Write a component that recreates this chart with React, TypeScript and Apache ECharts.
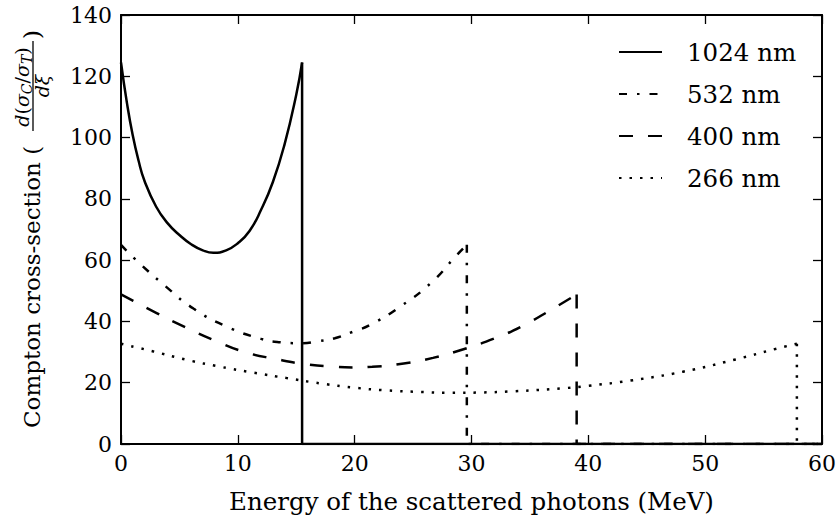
import React, { useEffect, useRef } from "react";
import * as echarts from "echarts";

// Series names
const NAMES = ["1024 nm", "532 nm", "400 nm", "266 nm"];

// Curves: [energy (MeV), cross-section]
const curve1024: number[][] = [
  [0, 124.5], [0.5, 111.5], [1, 100.8], [1.5, 92.5], [2, 86], [3, 77.5], [4, 72],
  [5, 68.2], [6, 65.2], [7, 63.2], [7.9, 62.4], [9, 63.2], [10, 65.5], [11, 69.5],
  [12, 76.5], [13, 85.5], [14, 97.8], [15, 114], [15.5, 124.5],
];
const drop1024: number[][] = [[15.5, 124.5], [15.5, 0], [60, 0]];

const curve532: number[][] = [
  [0, 65], [1.3, 60], [3.8, 51.5], [6.2, 44.2], [9, 38.4], [12, 34.3], [13.6, 33.2],
  [15.3, 32.9], [17, 33.6], [18.3, 34.5], [19.9, 36.7], [21.3, 38.8], [24, 45.1],
  [26.6, 52.8], [28.7, 61.5], [29.6, 65],
];
const drop532: number[][] = [[29.6, 65], [29.6, 0], [60, 0]];

const curve400: number[][] = [
  [0, 48.8], [1.05, 46.7], [3.05, 42.7], [5.5, 38.1], [8, 33.8], [10.6, 30.0],
  [13.3, 27.7], [15.9, 26.0], [18.3, 25.2], [19.9, 25.0], [21.5, 25.2], [24.2, 26.3],
  [26.7, 28.1], [29.45, 31.1], [32, 34.5], [34.4, 38.6], [36.9, 44], [39, 48.8],
];
const drop400: number[][] = [[39, 48.8], [39, 0], [60, 0]];

const curve266: number[][] = [
  [0, 32.7], [2.77, 30.2], [5.6, 27.5], [8.5, 25.2], [11.3, 23.3], [14.2, 21.5],
  [17.2, 19.7], [19.9, 18.4], [22.7, 17.5], [25.6, 17.0], [28.2, 16.7], [30.7, 16.8],
  [33.6, 17.2], [38.2, 18.3], [40, 19.0], [43.6, 20.7], [48.1, 23.6], [52.6, 27.6],
  [56.1, 31.1], [57.85, 32.7],
];
const drop266: number[][] = [[57.85, 32.7], [57.85, 0], [60, 0]];

const X_MIN = 0, X_MAX = 60, X_STEP = 10;
const Y_MIN = 0, Y_MAX = 140, Y_STEP = 20;

const X_LABEL = "Energy of the scattered photons (MeV)";
const Y_LABEL = "Compton cross-section (";

const FONT = '"DejaVu Serif", serif';

export default function App() {
  const ref = useRef<HTMLDivElement>(null);

  useEffect(() => {
    if (!ref.current) return;
    const chart = echarts.init(ref.current, null, { renderer: "svg" });

    const dashes: any[] = ["solid", [8, 10, 2.5, 10], [14, 15], [2.5, 8]];
    const curves = [curve1024, curve532, curve400, curve266];
    const drops = [drop1024, drop532, drop400, drop266];

    const series: any[] = [];
    NAMES.forEach((name, i) => {
      const ls = { color: "#000", width: 2.5, type: dashes[i], cap: "butt" };
      series.push({
        name,
        type: "line",
        data: curves[i],
        smooth: 0.5,
        symbol: "none",
        lineStyle: ls,
        itemStyle: { color: "#000" },
        z: 3,
      });
      series.push({
        name,
        type: "line",
        data: drops[i],
        smooth: false,
        symbol: "none",
        lineStyle: ls,
        itemStyle: { color: "#000" },
        z: 3,
      });
    });

    const axisCommon = {
      type: "value",
      axisLine: { show: true, onZero: false, lineStyle: { color: "#000", width: 2 } },
      axisTick: { show: true, inside: true, length: 9, lineStyle: { color: "#000", width: 1.3 } },
      splitLine: { show: false },
    };

    chart.setOption({
      animation: false,
      backgroundColor: "#fff",
      grid: { left: 121, right: 18, top: 15, bottom: 69, containLabel: false },
      xAxis: [
        {
          ...axisCommon,
          position: "bottom",
          min: X_MIN, max: X_MAX, interval: X_STEP,
          axisLabel: { color: "#000", fontFamily: FONT, fontSize: 22, margin: 8 },
          name: X_LABEL,
          nameLocation: "middle",
          nameGap: 45,
          nameTextStyle: { color: "#000", fontFamily: FONT, fontSize: 24.5 },
        },
        {
          ...axisCommon,
          position: "top",
          min: X_MIN, max: X_MAX, interval: X_STEP,
          axisLabel: { show: false },
        },
      ],
      yAxis: [
        {
          ...axisCommon,
          position: "left",
          min: Y_MIN, max: Y_MAX, interval: Y_STEP,
          axisLabel: { color: "#000", fontFamily: FONT, fontSize: 22, margin: 9 },
        },
        {
          ...axisCommon,
          position: "right",
          min: Y_MIN, max: Y_MAX, interval: Y_STEP,
          axisLabel: { show: false },
        },
      ],
      legend: {
        data: NAMES,
        orient: "vertical",
        left: 613,
        top: 34,
        itemWidth: 43,
        itemHeight: 14,
        itemGap: 16,
        itemStyle: { opacity: 0 },
        textStyle: { color: "#000", fontFamily: FONT, fontSize: 24.5, lineHeight: 26, padding: [0, 0, 0, 20] },
        selectedMode: false,
      },
      graphic: [
        {
          type: "group",
          x: 32,
          y: 428,
          rotation: Math.PI / 2,
          children: [
            {
              type: "text",
              x: 0,
              y: 0,
              style: {
                text: Y_LABEL,
                font: `23px ${FONT}`,
                fill: "#000",
                textAlign: "left",
                textVerticalAlign: "middle",
              },
            },
            {
              type: "text",
              x: 341,
              y: -10,
              style: {
                text: "{i|d}{n|(}{i|σ}{s|C}{n|/}{i|σ}{s|T}{n|)}",
                fill: "#000",
                textAlign: "center",
                textVerticalAlign: "middle",
                rich: {
                  i: { fontFamily: FONT, fontSize: 19, fontStyle: "italic", lineHeight: 22, verticalAlign: "middle" },
                  n: { fontFamily: FONT, fontSize: 19, lineHeight: 22, verticalAlign: "middle" },
                  s: { fontFamily: FONT, fontSize: 14, fontStyle: "italic", lineHeight: 22, padding: [10, 0, 0, 0], verticalAlign: "middle" },
                },
              },
            },
            {
              type: "line",
              shape: { x1: 297, y1: 1, x2: 387, y2: 1 },
              style: { stroke: "#000", lineWidth: 1.3 },
            },
            {
              type: "text",
              x: 342,
              y: 10,
              style: {
                text: "dξ",
                font: `italic 19px ${FONT}`,
                fill: "#000",
                textAlign: "center",
                textVerticalAlign: "middle",
              },
            },
            {
              type: "text",
              x: 389,
              y: 0,
              style: {
                text: ")",
                font: `23px ${FONT}`,
                fill: "#000",
                textAlign: "left",
                textVerticalAlign: "middle",
              },
            },
          ],
        },
      ],
      series,
    });

    return () => chart.dispose();
  }, []);

  return (
    <div
      ref={ref}
      style={{ position: "fixed", left: 0, top: 0, width: 840, height: 519 }}
    />
  );
}
